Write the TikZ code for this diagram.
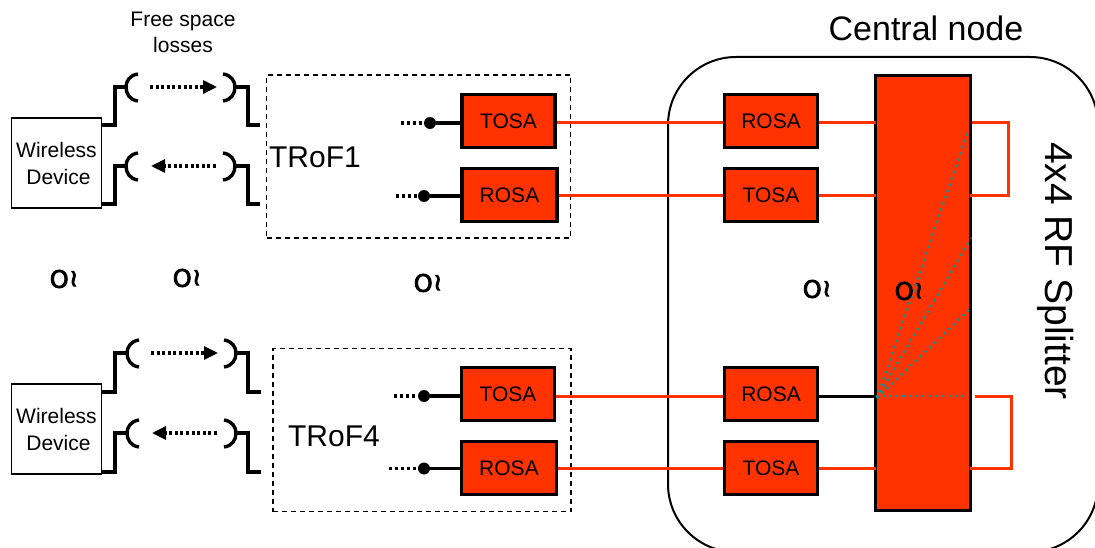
\documentclass[tikz,border=0pt]{standalone}
\usepackage{fontspec}
\setmainfont{Liberation Sans}
\newfontfamily\gapfont[FakeBold=3.5]{DejaVu Sans}
\usetikzlibrary{arrows.meta,positioning}
\definecolor{fibrered}{HTML}{FF3300}
\definecolor{splitdot}{HTML}{009696}
\tikzstyle{block}=[rectangle,draw=black,line width=3.3pt,fill=fibrered,minimum width=93pt,minimum height=53pt,font=\fontsize{21}{25}\selectfont]
\tikzstyle{device}=[rectangle,draw=black,line width=1.8pt,minimum width=90pt,minimum height=90pt,align=center,font=\fontsize{21}{27}\selectfont]
\tikzstyle{dbox}=[rectangle,draw=black,line width=1.3pt,dash pattern=on 5pt off 4pt]
\tikzstyle{fibre}=[draw=fibrered,line width=3pt]
\tikzstyle{wire}=[draw=black,line width=3.4pt]
\tikzstyle{air}=[draw=black,line width=3.2pt,dash pattern=on 3pt off 2.6pt,-{Triangle[length=14pt,width=13pt]}]
\tikzstyle{feed}=[draw=black,line width=3.2pt,dash pattern=on 3pt off 3pt]
\tikzstyle{port}=[circle,fill=black,inner sep=0pt,minimum size=12pt]
\tikzstyle{split}=[draw=splitdot,line width=2.2pt,dash pattern=on 2.2pt off 4.4pt]
\tikzstyle{gap}=[font=\fontsize{24}{24}\gapfont,inner sep=0pt]
\tikzset{
  lhorn/.pic={\draw[wire] (12,-13) .. controls (4,-12) and (0,-6) .. (0,0) .. controls (0,7) and (4,13) .. (12,14);},
  rhorn/.pic={\draw[wire] (-12,-13) .. controls (-4,-12) and (0,-6) .. (0,0) .. controls (0,7) and (-4,13) .. (-12,14);}
}
\newcommand{\gapmark}{O\kern0.5pt\raisebox{1.5pt}{≀}}

\begin{document}
\begin{tikzpicture}[x=1pt,y=-1pt]
  \clip (0,0) rectangle (1095,548);

  % CENTRAL NODE
  \node[rectangle,draw=black,line width=2pt,rounded corners=68pt,minimum width=430pt,minimum height=495pt] (central) at (883,304.5) {};
  \node[font=\fontsize{34}{38}\selectfont] (centrallabel) at (926,28) {Central node};
  \node[block,minimum width=95pt,minimum height=435pt] (splitter) at (923,293) {};
  \node[block] (crosa1) at (771,121) {ROSA};
  \node[block,below=18pt of crosa1] (ctosa1) {TOSA};
  \node[block] (crosa4) at (771,394) {ROSA};
  \node[block,below=18pt of crosa4] (ctosa4) {TOSA};
  \node[rotate=-90,font=\fontsize{39}{43}\selectfont] (splitlabel) at (1056,271) {4x4 RF Splitter};

  \coordinate (in1) at (876,123);
  \coordinate (in2) at (876,196);
  \coordinate (in3) at (876,396);
  \coordinate (in4) at (876,468.5);
  \coordinate (out1) at (972,123);
  \coordinate (out2) at (970,196);
  \coordinate (out3) at (975,396);
  \coordinate (out4) at (970,468.5);
  \coordinate (loop1) at (1008,123);
  \coordinate (loop2) at (1008,196);
  \coordinate (loop3) at (1011,396);
  \coordinate (loop4) at (1011,468.5);

  \path[fibre] (out1) -- (loop1) -- (loop2) -- (out2);
  \path[fibre] (out3) -- (loop3) -- (loop4) -- (out4);

  % SPLITTER PATHS
  \coordinate (hub) at (877,398);
  \coordinate (tap1) at (968,131);
  \coordinate (tap2) at (971,238);
  \coordinate (tap3) at (971,308);
  \coordinate (tap4) at (965,396);
  \path[split] (hub) -- (tap1);
  \path[split] (hub) -- (tap2);
  \path[split] (hub) -- (tap3);
  \path[split] (in3) -- (tap4);

  % TROF1 PART
  \node[dbox,minimum width=304pt,minimum height=163pt] (trof1) at (418.5,156.5) {};
  \node[font=\fontsize{30}{34}\selectfont,inner sep=0pt] (trof1label) at (315,157) {TRoF1};
  \node[block] (tosa1) at (508.5,121) {TOSA};
  \node[block,minimum width=95pt,below=18pt of tosa1,xshift=1pt] (rosa1) {ROSA};
  \node[port] (dot1) at (430,123) {};
  \node[port] (dot2) at (424,196) {};
  \coordinate (stub1) at (401,123);
  \coordinate (stub2) at (396,196);

  \path[wire] (dot1) -- (dot1 -| tosa1.west);
  \path[wire] (dot2) -- (dot2 -| rosa1.west);
  \path[feed] (stub1) -- (dot1);
  \path[feed] (stub2) -- (dot2);
  \path[fibre] (dot1 -| tosa1.east) -- (dot1 -| crosa1.west);
  \path[fibre] (dot2 -| rosa1.east) -- (dot2 -| ctosa1.west);
  \path[fibre] (crosa1.east |- in1) -- (in1);
  \path[fibre] (ctosa1.east |- in2) -- (in2);

  % TROF4 PART
  \node[dbox,minimum width=298pt,minimum height=163pt] (trof4) at (422,430) {};
  \node[font=\fontsize{30}{34}\selectfont,inner sep=0pt] (trof4label) at (334,436) {TRoF4};
  \node[block] (tosa4) at (508,394) {TOSA};
  \node[block,minimum width=95pt,below=18pt of tosa4,xshift=1pt] (rosa4) {ROSA};
  \node[port] (dot3) at (424,396) {};
  \node[port] (dot4) at (424,468.5) {};
  \coordinate (stub3) at (394,396);
  \coordinate (stub4) at (389,468.5);

  \path[wire] (dot3) -- (dot3 -| tosa4.west);
  \path[wire] (dot4) -- (dot4 -| rosa4.west);
  \path[feed] (stub3) -- (dot3);
  \path[feed] (stub4) -- (dot4);
  \path[fibre] (dot3 -| tosa4.east) -- (dot3 -| crosa4.west);
  \path[fibre] (dot4 -| rosa4.east) -- (dot4 -| ctosa4.west);
  \path[wire,line width=3pt] (crosa4.east |- in3) -- (in3);
  \path[fibre] (ctosa4.east |- in4) -- (in4);

  % UPPER WIRELESS PART
  \node[device] (dev1) at (56.5,163) {Wireless\\\hspace*{4pt}Device};
  \node[inner sep=0pt,align=center,font=\fontsize{21}{26}\selectfont] (freespace) at (183,32) {Free space\\losses};
  \coordinate (ant1) at (126,87);
  \coordinate (ant2) at (126,166);
  \coordinate (ant3) at (235,87);
  \coordinate (ant4) at (235,166);
  \coordinate (end3) at (260,125);
  \coordinate (end4) at (260,204);
  \coordinate (from1) at (150,87);
  \coordinate (to1) at (217,87);
  \coordinate (from2) at (216,166);
  \coordinate (to2) at (151,166);

  \pic at (ant1) {lhorn};
  \pic at (ant2) {lhorn};
  \pic at (ant3) {rhorn};
  \pic at (ant4) {rhorn};
  \path[wire] (dev1.east |- end3) -| (115,87) -- (ant1);
  \path[wire] (dev1.east |- end4) -| (115,166) -- (ant2);
  \path[wire] (ant3) -- (248,87) |- (end3);
  \path[wire] (ant4) -- (248,166) |- (end4);
  \path[air] (from1) -- (to1);
  \path[air] (from2) -- (to2);

  % LOWER WIRELESS PART
  \node[device] (dev4) at (56.5,429) {Wireless\\\hspace*{4pt}Device};
  \coordinate (ant5) at (127,353);
  \coordinate (ant6) at (127,433);
  \coordinate (ant7) at (236,353);
  \coordinate (ant8) at (236,433);
  \coordinate (end7) at (261,392);
  \coordinate (end8) at (261,472);
  \coordinate (from3) at (151,353);
  \coordinate (to3) at (218,353);
  \coordinate (from4) at (217,433);
  \coordinate (to4) at (152,433);

  \pic at (ant5) {lhorn};
  \pic at (ant6) {lhorn};
  \pic at (ant7) {rhorn};
  \pic at (ant8) {rhorn};
  \path[wire] (dev4.east |- end7) -| (115,353) -- (ant5);
  \path[wire] (dev4.east |- end8) -| (115,433) -- (ant6);
  \path[wire] (ant7) -- (248,353) |- (end7);
  \path[wire] (ant8) -- (248,433) |- (end8);
  \path[air] (from3) -- (to3);
  \path[air] (from4) -- (to4);

  % GAP MARKS
  \node[gap] (gap1) at (64,279) {\gapmark};
  \node[gap] (gap2) at (187,278) {\gapmark};
  \node[gap] (gap3) at (428,283) {\gapmark};
  \node[gap] (gap4) at (817,289) {\gapmark};
  \node[gap] (gap5) at (909,291) {\gapmark};
\end{tikzpicture}
\end{document}
